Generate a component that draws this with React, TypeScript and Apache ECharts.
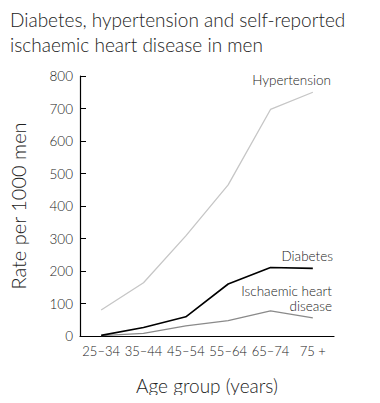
import React, { useEffect, useRef } from "react";
import * as echarts from "echarts";

const categories = ["25–34", "35–44", "45–54", "55–64", "65–74", "75 +"];
const hypertension = [80, 164, 308, 465, 697, 750];
const diabetes = [2, 26, 59, 160, 211, 208];
const ischaemic = [1, 8, 31, 47, 77, 56];
const yTicks = { min: 0, max: 800, interval: 100 };

const FONT = "Lato";
const TEXT = "#222";

const lbl = (text: string, x: number, y: number) => ({
  type: "text",
  x,
  y,
  style: {
    text,
    fontFamily: FONT,
    fontSize: 13.5,
    fontWeight: 300,
    fill: TEXT,
    align: "right",
    verticalAlign: "middle",
  },
});

export default function App() {
  const ref = useRef<HTMLDivElement>(null);
  useEffect(() => {
    const chart = echarts.init(ref.current!, null, { renderer: "svg" });
    chart.setOption({
      animation: false,
      textStyle: { fontFamily: FONT },
      grid: { left: 62, right: 46, top: 76, bottom: 67 },
      title: {
        text: "Diabetes, hypertension and self-reported\nischaemic heart disease in men",
        left: 5,
        top: 2,
        textStyle: { fontFamily: FONT, fontSize: 19, fontWeight: 300, color: TEXT, lineHeight: 25 },
      },
      xAxis: {
        type: "category",
        data: categories,
        boundaryGap: true,
        name: "Age group (years)",
        nameLocation: "middle",
        nameGap: 40,
        nameTextStyle: { fontFamily: FONT, fontSize: 19, fontWeight: 300, color: TEXT },
        axisLine: { lineStyle: { color: "#000", width: 1.2 } },
        axisTick: { alignWithLabel: true, inside: true, length: 5, lineStyle: { color: "#000" } },
        axisLabel: { interval: 0, fontFamily: FONT, fontSize: 13, fontWeight: 300, color: TEXT, margin: 8 },
      },
      yAxis: {
        type: "value",
        min: yTicks.min,
        max: yTicks.max,
        interval: yTicks.interval,
        name: "Rate per 1000 men",
        nameLocation: "middle",
        nameGap: 52,
        nameTextStyle: { fontFamily: FONT, fontSize: 20, fontWeight: 300, color: TEXT },
        splitLine: { show: false },
        axisLine: { show: true, lineStyle: { color: "#000", width: 1.2 } },
        axisTick: { show: true, inside: true, length: 6, lineStyle: { color: "#000" } },
        axisLabel: { fontFamily: FONT, fontSize: 13.5, fontWeight: 300, color: TEXT, margin: 7 },
      },
      series: [
        {
          type: "line",
          name: "Hypertension",
          data: hypertension,
          symbol: "none",
          lineStyle: { color: "#c6c6c6", width: 1.3 },
        },
        {
          type: "line",
          name: "Ischaemic heart disease",
          data: ischaemic,
          symbol: "none",
          lineStyle: { color: "#8a8a8a", width: 1.3 },
        },
        {
          type: "line",
          name: "Diabetes",
          data: diabetes,
          symbol: "none",
          lineStyle: { color: "#000", width: 1.6 },
        },
      ],
      graphic: [
        lbl("Hypertension", 331, 80),
        lbl("Diabetes", 333, 256),
        lbl("Ischaemic heart", 332, 291),
        lbl("disease", 332, 306),
      ],
    });
    return () => chart.dispose();
  }, []);
  return <div ref={ref} style={{ width: 380, height: 403, margin: -8 }} />;
}
